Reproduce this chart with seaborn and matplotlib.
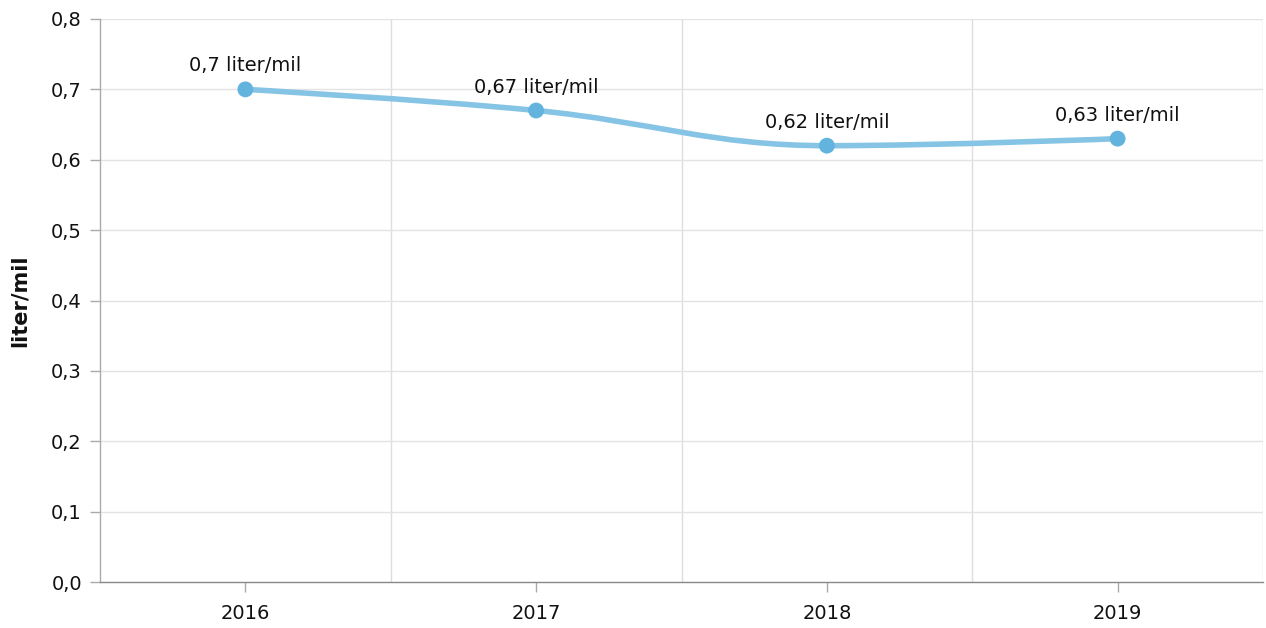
import numpy as np
import pandas as pd
import seaborn as sns
import matplotlib.pyplot as plt
from matplotlib.path import Path
from matplotlib.patches import PathPatch
from matplotlib.ticker import FuncFormatter, MultipleLocator

years = ["2016", "2017", "2018", "2019"]
values = [0.70, 0.67, 0.62, 0.63]
labels = ["0,7 liter/mil", "0,67 liter/mil", "0,62 liter/mil", "0,63 liter/mil"]
y_label = "liter/mil"

sns.set_theme(style="white")
plt.rcParams['font.family'] = ['DejaVu Sans']

LINE = "#85c4e4"
MARK = "#62b4de"
TXT = "#111111"

fig = plt.figure(figsize=(12.66, 6.28), dpi=100)
ax = fig.add_axes([100/1266, 1 - 582/628, 1163/1266, (582-19)/628])

df = pd.DataFrame({"year": years, "value": values})
xs = np.arange(len(years), dtype=float)

# Smooth spline path (Highcharts-style bezier) through the data points
def spline_path(x, y, smoothing=1.5):
    denom = smoothing + 1
    verts = [(x[0], y[0])]
    codes = [Path.MOVETO]
    ctrl = []
    for i in range(len(x)):
        if 0 < i < len(x) - 1:
            lx = (smoothing * x[i] + x[i-1]) / denom
            ly = (smoothing * y[i] + y[i-1]) / denom
            rx = (smoothing * x[i] + x[i+1]) / denom
            ry = (smoothing * y[i] + y[i+1]) / denom
            corr = ((ry - ly) * (rx - x[i])) / (rx - lx) + y[i] - ry
            ly += corr
            ry += corr
            if ly > y[i-1] and ly > y[i]:
                ly = max(y[i-1], y[i]); ry = 2 * y[i] - ly
            elif ly < y[i-1] and ly < y[i]:
                ly = min(y[i-1], y[i]); ry = 2 * y[i] - ly
            if ry > y[i+1] and ry > y[i]:
                ry = max(y[i+1], y[i]); ly = 2 * y[i] - ry
            elif ry < y[i+1] and ry < y[i]:
                ry = min(y[i+1], y[i]); ly = 2 * y[i] - ry
            ctrl.append(((lx, ly), (rx, ry)))
        else:
            ctrl.append(((x[i], y[i]), (x[i], y[i])))
    for i in range(1, len(x)):
        verts += [ctrl[i-1][1], ctrl[i][0], (x[i], y[i])]
        codes += [Path.CURVE4, Path.CURVE4, Path.CURVE4]
    return Path(verts, codes)

ax.add_patch(PathPatch(spline_path(xs, values), facecolor="none", edgecolor=LINE,
                       lw=4, capstyle="round", zorder=3))
sns.scatterplot(data=df, x="year", y="value", ax=ax, color=MARK, s=130,
                edgecolor="none", zorder=4, legend=False)

for xi, v, lab in zip(xs, values, labels):
    ax.annotate(lab, (xi, v), xytext=(0, 10), textcoords="offset points",
                ha="center", va="bottom", fontsize=14, color=TXT)

ax.set_xlim(-0.5, 3.5)
ax.set_ylim(0, 0.8)
ax.yaxis.set_major_locator(MultipleLocator(0.1))
ax.yaxis.set_major_formatter(FuncFormatter(lambda v, p: f"{v:.1f}".replace(".", ",")))
ax.set_xticks(xs)
ax.set_xticklabels(years)

for b in [0.5, 1.5, 2.5, 3.5]:
    ax.axvline(b, color="#dddddd", lw=1, zorder=1)
for t in np.arange(0.1, 0.81, 0.1):
    ax.axhline(t, color="#e3e3e3", lw=1, zorder=1)

for s in ["top", "right"]:
    ax.spines[s].set_visible(False)
ax.spines["left"].set_color("#aaaaaa")
ax.spines["bottom"].set_color("#888888")
ax.spines["left"].set_linewidth(1)
ax.spines["bottom"].set_linewidth(1)

ax.tick_params(axis="both", which="major", length=7, width=1, color="#aaaaaa",
               labelsize=14, labelcolor=TXT, pad=6, bottom=True, left=True)
ax.tick_params(axis="x", pad=9)
ax.set_xlabel("")
ax.set_ylabel(y_label, fontsize=15, fontweight="bold", color=TXT, labelpad=15)

fig.savefig("out.png", dpi=100)
